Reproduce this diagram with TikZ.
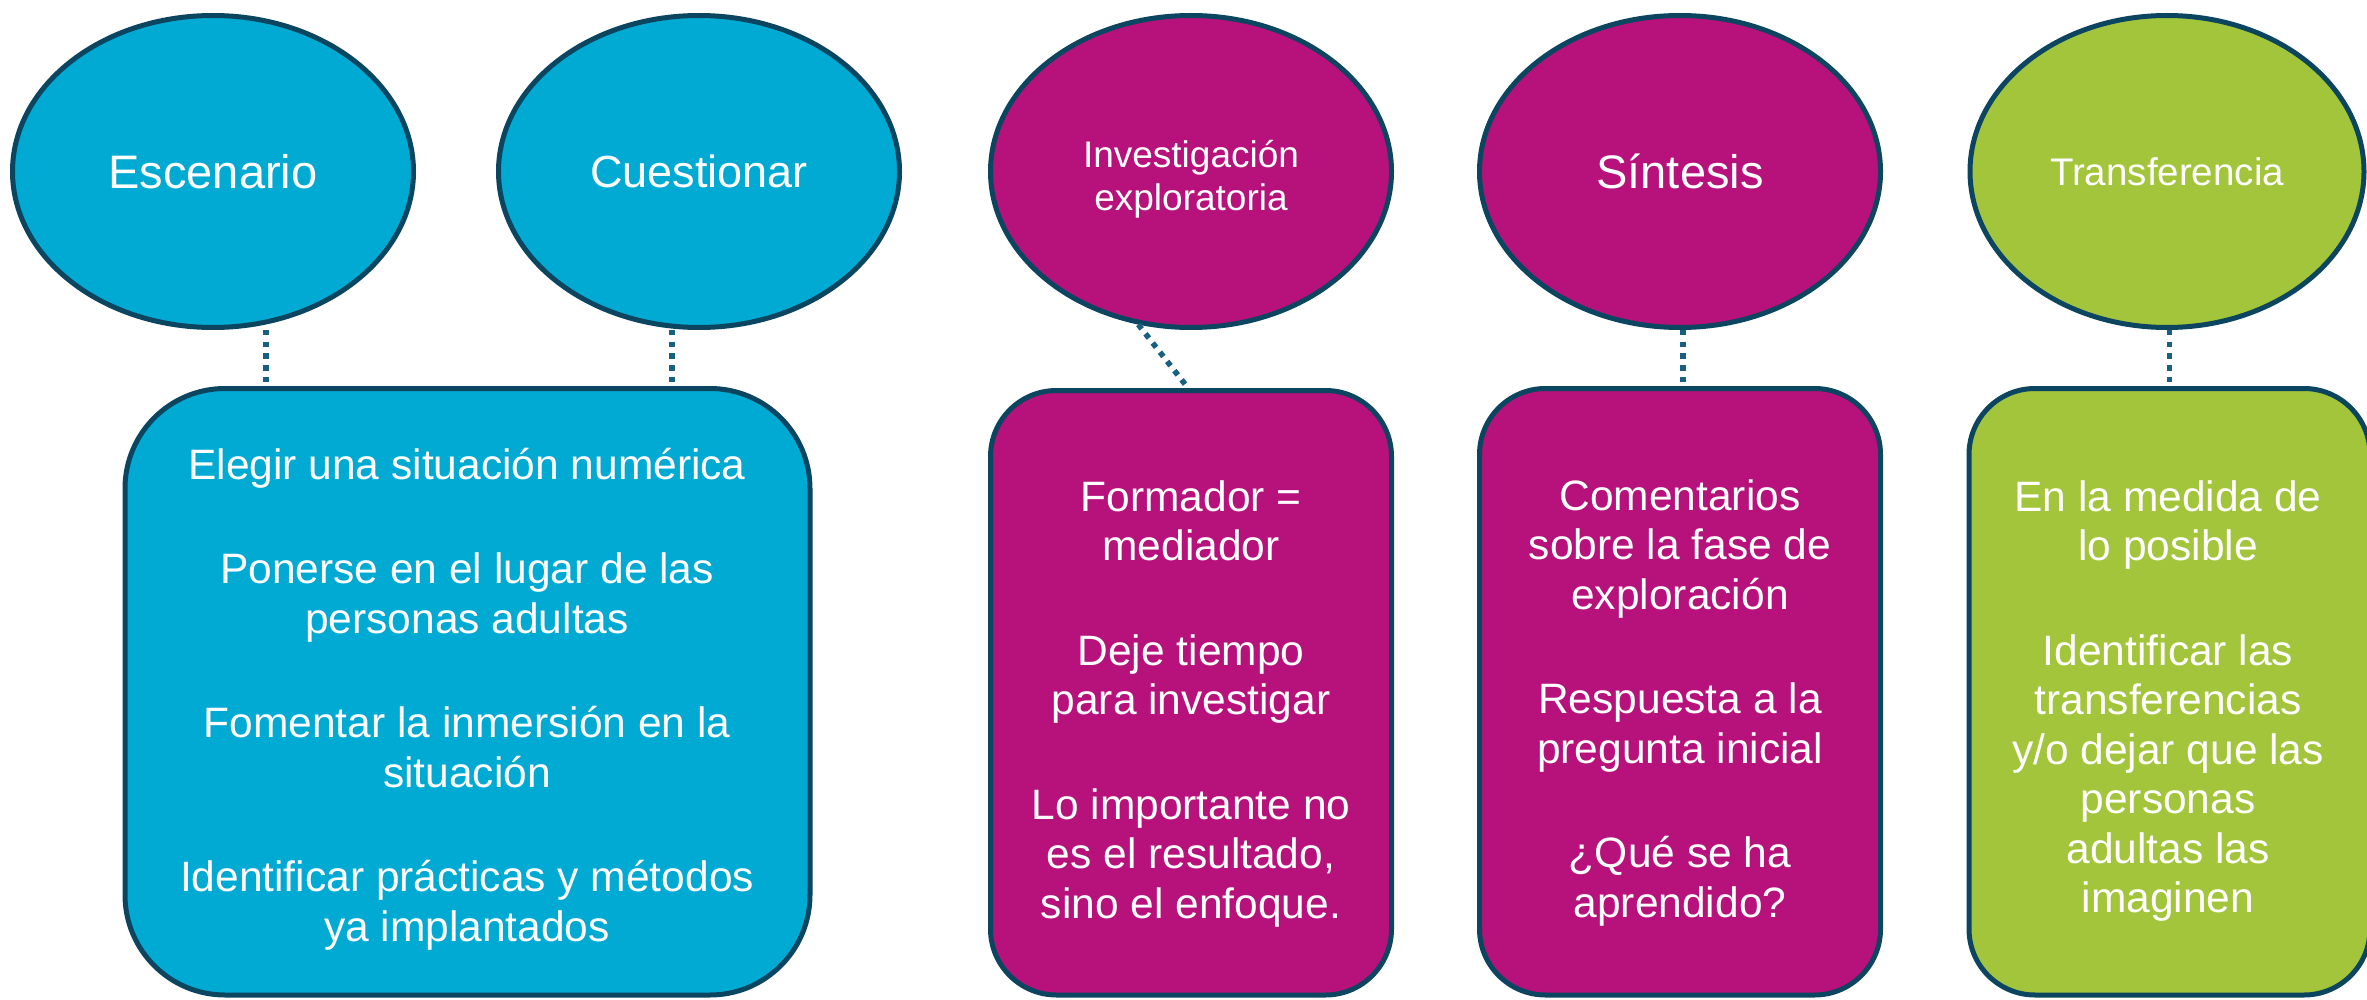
\documentclass[tikz,border=0pt]{standalone}
\usepackage{fontspec}
\setmainfont{Liberation Sans}
\usetikzlibrary{shapes.geometric,calc}
\definecolor{cblue}{RGB}{0,170,210}
\definecolor{cmag}{RGB}{183,17,124}
\definecolor{cgreen}{RGB}{163,197,60}
\definecolor{cline}{RGB}{11,69,96}
\definecolor{cdot}{RGB}{22,96,130}
\begin{document}
\begin{tikzpicture}[x=1pt,y=-1pt,
  phase/.style={ellipse,draw=cline,line width=5pt,minimum width=401pt,minimum height=312pt,inner sep=0pt,text=white,align=center},
  card/.style={rectangle,draw=cline,line width=5pt,inner sep=0pt,minimum width=401pt,minimum height=606.5pt,rounded corners=66pt},
  cardtext/.style={text=white,align=center,font=\fontsize{42.5pt}{49.5pt}\selectfont,inner sep=0pt},
  conn/.style={draw=cdot,line width=5.5pt,dash pattern=on 5.5pt off 6.2pt}]
\useasboundingbox (0,0) rectangle (2367,1000);
\fill[white] (0,0) rectangle (2367,1000);

% phase ellipses
\node[phase,fill=cblue,font=\fontsize{47pt}{54pt}\selectfont] (e1) at (213,171.5) {Escenario};
\node[phase,fill=cblue,font=\fontsize{45pt}{52pt}\selectfont] (e2) at (699,171.5) {Cuestionar};
\node[phase,fill=cmag] (e3) at (1191,171.5) {};
\node[text=white,align=center,inner sep=0pt,font=\fontsize{37pt}{43pt}\selectfont] (e3t) at ([yshift=-7.5pt]e3.center) {Investigación\\exploratoria};
\node[phase,fill=cmag,font=\fontsize{47pt}{54pt}\selectfont] (e4) at (1680,171.5) {Síntesis};
\node[phase,fill=cgreen,minimum width=394pt,font=\fontsize{38.5pt}{45pt}\selectfont] (e5) at (2167,171.5) {\raisebox{-3pt}{Transferencia}};

% cards
\node[card,fill=cblue,minimum width=685pt,rounded corners=100pt] (b1) at (467.5,691.75) {};
\node[card,fill=cmag,minimum height=604.5pt] (b3) at (1191,692.75) {};
\node[card,fill=cmag] (b4) at (1680,691.75) {};
\node[card,fill=cgreen] (b5) at (2169.5,691.75) {};

% card texts
\node[cardtext] (t1) at (467,699) {Elegir una situación numérica\\[55pt]Ponerse en el lugar de las\\personas adultas\\[55pt]Fomentar la inmersión en la\\situación\\[55pt]Identificar prácticas y métodos\\ya implantados};
\node[cardtext] (t3) at (1191,704) {Formador =\\mediador\\[55pt]Deje tiempo\\para investigar\\[55pt]Lo importante no\\es el resultado,\\sino el enfoque.};
\node[cardtext] (t4) at (1680,703) {Comentarios\\sobre la fase de\\exploración\\[55pt]Respuesta a la\\pregunta inicial\\[55pt]¿Qué se ha\\aprendido?};
\node[cardtext] (t5) at (2168,701) {En la medida de\\lo posible\\[55pt]Identificar las\\transferencias\\y/o dejar que las\\personas\\adultas las\\imaginen};

% connectors
\coordinate (k1) at (266,0);
\coordinate (k2) at (672,0);
\coordinate (k4) at (1683,0);
\draw[conn] (e1.south -| k1) -- (b1.north -| k1);
\draw[conn] (e2.south -| k2) -- (b1.north -| k2);
\draw[conn] (e3.251) -- ([xshift=-3pt]b3.north);
\draw[conn] (e4.south -| k4) -- (b4.north -| k4);
\draw[conn] (e5.south -| b5.north) -- (b5.north);
\end{tikzpicture}
\end{document}
